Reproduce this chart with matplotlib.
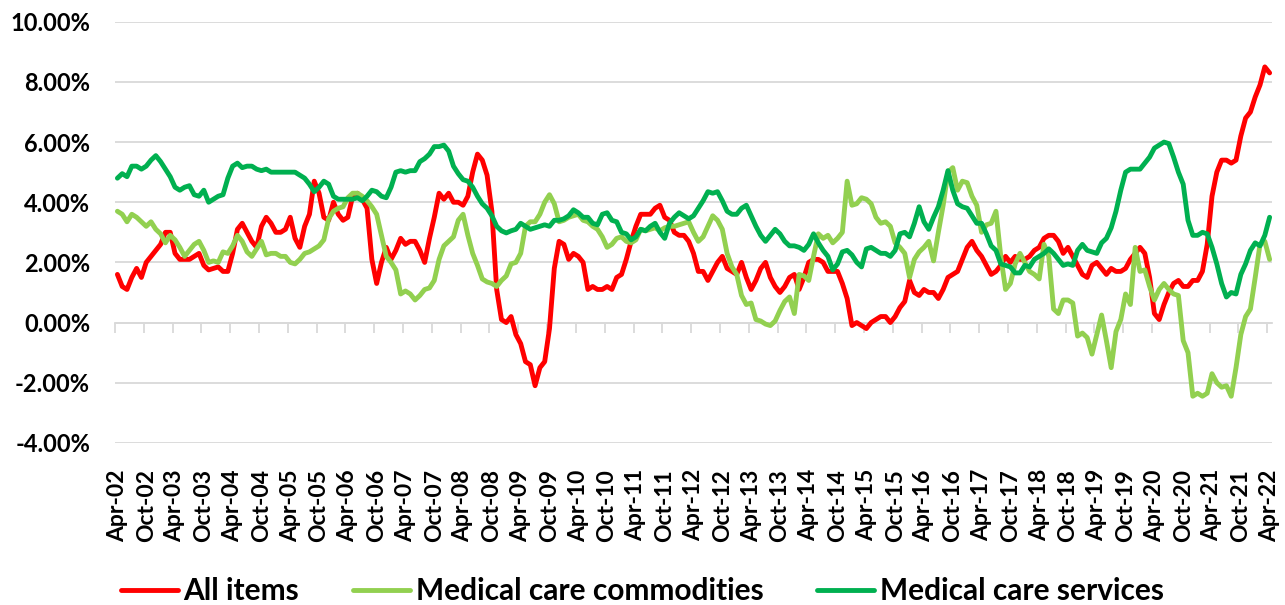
import matplotlib.pyplot as plt
from matplotlib.ticker import PercentFormatter

plt.rcParams['font.family'] = ['Lato', 'DejaVu Sans']
plt.rcParams['font.weight'] = 'bold'
plt.rcParams['axes.unicode_minus'] = False

# year-over-year change (%), monthly Apr-02 .. Apr-22, one row per 12 months
all_items = [
    1.6, 1.2, 1.1, 1.5, 1.8, 1.5, 2.0, 2.2, 2.4, 2.6, 3.0, 3.0,
    2.3, 2.1, 2.1, 2.1, 2.2, 2.3, 1.9, 1.75, 1.8, 1.85, 1.7, 1.7,
    2.3, 3.1, 3.3, 3.0, 2.7, 2.5, 3.2, 3.5, 3.3, 3.0, 3.0, 3.1,
    3.5, 2.8, 2.5, 3.2, 3.6, 4.7, 4.3, 3.5, 3.4, 4.0, 3.6, 3.4,
    3.5, 4.2, 4.3, 4.1, 3.8, 2.1, 1.3, 2.0, 2.5, 2.1, 2.4, 2.8,
    2.6, 2.7, 2.7, 2.4, 2.0, 2.8, 3.5, 4.3, 4.1, 4.3, 4.0, 4.0,
    3.9, 4.2, 5.0, 5.6, 5.4, 4.9, 3.7, 1.1, 0.1, 0.0, 0.2, -0.4,
    -0.7, -1.3, -1.4, -2.1, -1.5, -1.3, -0.2, 1.8, 2.7, 2.6, 2.1, 2.3,
    2.2, 2.0, 1.1, 1.2, 1.1, 1.1, 1.2, 1.1, 1.5, 1.6, 2.1, 2.7,
    3.2, 3.6, 3.6, 3.6, 3.8, 3.9, 3.5, 3.4, 3.0, 2.9, 2.9, 2.7,
    2.3, 1.7, 1.7, 1.4, 1.7, 2.0, 2.2, 1.8, 1.7, 1.6, 2.0, 1.5,
    1.1, 1.4, 1.8, 2.0, 1.5, 1.2, 1.0, 1.2, 1.5, 1.6, 1.1, 1.5,
    2.0, 2.1, 2.1, 2.0, 1.7, 1.7, 1.7, 1.3, 0.8, -0.1, 0.0, -0.1,
    -0.2, 0.0, 0.1, 0.2, 0.2, 0.0, 0.2, 0.5, 0.7, 1.4, 1.0, 0.9,
    1.1, 1.0, 1.0, 0.8, 1.1, 1.5, 1.6, 1.7, 2.1, 2.5, 2.7, 2.4,
    2.2, 1.9, 1.6, 1.7, 1.9, 2.2, 2.0, 2.2, 2.1, 2.1, 2.2, 2.4,
    2.5, 2.8, 2.9, 2.9, 2.7, 2.3, 2.5, 2.2, 1.9, 1.6, 1.5, 1.9,
    2.0, 1.8, 1.6, 1.8, 1.7, 1.7, 1.8, 2.1, 2.3, 2.5, 2.3, 1.5,
    0.3, 0.1, 0.6, 1.0, 1.3, 1.4, 1.2, 1.2, 1.4, 1.4, 1.7, 2.6,
    4.2, 5.0, 5.4, 5.4, 5.3, 5.4, 6.2, 6.8, 7.0, 7.5, 7.9, 8.5,
    8.3,
]

med_commodities = [
    3.7, 3.6, 3.35, 3.6, 3.5, 3.35, 3.2, 3.35, 3.1, 2.95, 2.65, 2.9,
    2.75, 2.5, 2.2, 2.4, 2.6, 2.7, 2.4, 2.0, 2.05, 2.0, 2.35, 2.3,
    2.55, 2.9, 2.7, 2.35, 2.2, 2.45, 2.7, 2.25, 2.3, 2.3, 2.2, 2.2,
    2.0, 1.95, 2.1, 2.3, 2.35, 2.45, 2.55, 2.75, 3.45, 3.7, 3.8, 3.85,
    4.15, 4.3, 4.3, 4.2, 4.05, 3.85, 3.6, 2.9, 2.2, 2.0, 1.75, 0.95,
    1.05, 0.95, 0.75, 0.9, 1.1, 1.15, 1.4, 2.1, 2.55, 2.7, 2.85, 3.4,
    3.6, 2.9, 2.3, 1.9, 1.45, 1.35, 1.3, 1.2, 1.4, 1.55, 1.95, 2.0,
    2.3, 3.2, 3.35, 3.35, 3.6, 4.0, 4.25, 3.95, 3.35, 3.4, 3.5, 3.55,
    3.6, 3.4, 3.35, 3.2, 3.1, 2.85, 2.5, 2.6, 2.8, 2.85, 2.7, 2.65,
    2.75, 3.1, 3.05, 3.1, 3.15, 3.05, 3.15, 3.2, 3.2, 3.25, 3.3, 3.35,
    3.0, 2.7, 2.85, 3.2, 3.55, 3.4, 3.1, 2.3, 1.85, 1.6, 0.9, 0.6,
    0.65, 0.1, 0.05, -0.05, -0.1, 0.05, 0.4, 0.7, 0.85, 0.3, 1.6, 1.55,
    1.4, 2.2, 2.95, 2.8, 2.9, 2.65, 2.8, 3.0, 4.7, 3.9, 3.95, 4.15,
    4.1, 3.95, 3.5, 3.3, 3.35, 3.2, 2.65, 2.5, 2.3, 1.5, 2.1, 2.35,
    2.5, 2.7, 2.05, 3.0, 3.9, 5.0, 5.15, 4.4, 4.7, 4.65, 4.2, 3.9,
    3.0, 3.25, 3.3, 3.7, 2.2, 1.1, 1.3, 1.95, 2.3, 2.0, 1.7, 1.6,
    1.45, 2.6, 2.2, 0.45, 0.3, 0.75, 0.75, 0.65, -0.45, -0.35, -0.5, -1.05,
    -0.4, 0.25, -0.6, -1.5, -0.3, 0.1, 0.95, 0.6, 2.5, 1.7, 1.75, 1.2,
    0.75, 1.1, 1.3, 1.1, 0.95, 0.9, -0.6, -1.0, -2.45, -2.35, -2.45, -2.35,
    -1.7, -2.0, -2.15, -2.1, -2.45, -1.5, -0.4, 0.2, 0.45, 1.5, 2.6, 2.7,
    2.1,
]

med_services = [
    4.8, 4.95, 4.85, 5.2, 5.2, 5.1, 5.2, 5.4, 5.55, 5.35, 5.1, 4.85,
    4.5, 4.4, 4.5, 4.55, 4.25, 4.2, 4.4, 4.0, 4.1, 4.2, 4.25, 4.8,
    5.2, 5.3, 5.15, 5.2, 5.2, 5.1, 5.05, 5.1, 5.0, 5.0, 5.0, 5.0,
    5.0, 5.0, 4.9, 4.8, 4.6, 4.35, 4.5, 4.7, 4.6, 4.2, 4.1, 4.1,
    4.1, 4.1, 4.15, 4.05, 4.2, 4.4, 4.35, 4.2, 4.15, 4.5, 5.0, 5.05,
    5.0, 5.05, 5.05, 5.35, 5.45, 5.6, 5.85, 5.85, 5.9, 5.7, 5.2, 4.95,
    4.75, 4.7, 4.5, 4.2, 3.95, 3.8, 3.55, 3.2, 3.05, 2.98, 3.05, 3.1,
    3.3, 3.2, 3.1, 3.15, 3.2, 3.25, 3.2, 3.4, 3.4, 3.45, 3.55, 3.75,
    3.65, 3.5, 3.5, 3.3, 3.25, 3.6, 3.65, 3.4, 3.35, 3.0, 2.95, 2.75,
    2.85, 3.1, 3.05, 3.2, 3.3, 3.0, 2.8, 3.3, 3.5, 3.65, 3.55, 3.45,
    3.55, 3.8, 4.05, 4.35, 4.3, 4.35, 4.05, 3.7, 3.6, 3.6, 3.8, 3.9,
    3.55, 3.2, 2.9, 2.7, 2.9, 3.1, 2.95, 2.7, 2.55, 2.55, 2.5, 2.4,
    2.6, 2.95, 2.65, 2.4, 2.2, 1.75, 1.95, 2.35, 2.4, 2.25, 2.0, 1.85,
    2.45, 2.5, 2.4, 2.3, 2.3, 2.2, 2.4, 2.95, 3.0, 2.85, 3.3, 3.85,
    3.35, 3.1, 3.5, 3.85, 4.4, 5.05, 4.4, 3.95, 3.85, 3.8, 3.55, 3.3,
    3.3, 2.95, 2.55, 2.4, 1.95, 1.9, 1.85, 1.65, 1.65, 1.9, 1.85, 2.1,
    2.2, 2.3, 2.45, 2.3, 2.1, 1.9, 1.95, 1.9, 2.4, 2.6, 2.4, 2.35,
    2.3, 2.65, 2.8, 3.15, 3.7, 4.4, 5.0, 5.1, 5.1, 5.1, 5.3, 5.5,
    5.8, 5.9, 6.0, 5.95, 5.5, 5.0, 4.6, 3.4, 2.9, 2.9, 3.0, 2.95,
    2.5, 1.95, 1.3, 0.85, 1.0, 0.95, 1.6, 1.95, 2.4, 2.65, 2.55, 2.9,
    3.5,
]

# labels every 6 months
tick_labels = [f"{mon}-{yr:02d}" for yr in range(2, 22) for mon in ("Apr", "Oct")] + ["Apr-22"]

months = list(range(len(all_items)))
tick_pos = months[::6]

fig = plt.figure(figsize=(12.85, 6.05), dpi=100)
ax = fig.add_axes([0.0895, 0.268, 0.9004, 0.696])

ax.plot(months, all_items, color='#FF0000', lw=3.5, label='All items', solid_capstyle='round')
ax.plot(months, med_commodities, color='#92D050', lw=3.5, label='Medical care commodities', solid_capstyle='round')
ax.plot(months, med_services, color='#00B050', lw=3.5, label='Medical care services', solid_capstyle='round')

ax.set_xlim(-0.5, len(months) - 0.5)
ax.set_ylim(-4, 10)
ax.set_yticks(range(-4, 11, 2))
ax.yaxis.set_major_formatter(PercentFormatter(100, decimals=2))
ax.grid(axis='y', color='#d9d9d9', lw=1.3)
ax.set_axisbelow(True)
for s in ['top', 'right', 'left']:
    ax.spines[s].set_visible(False)
ax.spines['bottom'].set_position(('data', 0))
ax.spines['bottom'].set_color('#d9d9d9')
ax.spines['bottom'].set_linewidth(1.3)
ax.spines['bottom'].set_zorder(1)

# tick marks sit on category boundaries, labels on the categories
ax.set_xticks([p - 0.5 for p in tick_pos])
ax.tick_params(axis='x', direction='out', length=7, width=1.3, color='#d9d9d9', labelbottom=False)
ax.tick_params(axis='y', length=0, pad=18, labelsize=17)

sec = ax.secondary_xaxis('bottom')
sec.set_xticks(tick_pos, tick_labels, rotation=90, fontsize=16.5, fontweight='bold')
sec.tick_params(length=0, pad=19)
sec.spines['bottom'].set_visible(False)

fig.legend(loc='lower center', bbox_to_anchor=(0.5, -0.045), ncol=3, frameon=False,
           fontsize=21.5, handlelength=1.9, columnspacing=1.8, handletextpad=0.2)

fig.savefig('out.png', dpi=100)
